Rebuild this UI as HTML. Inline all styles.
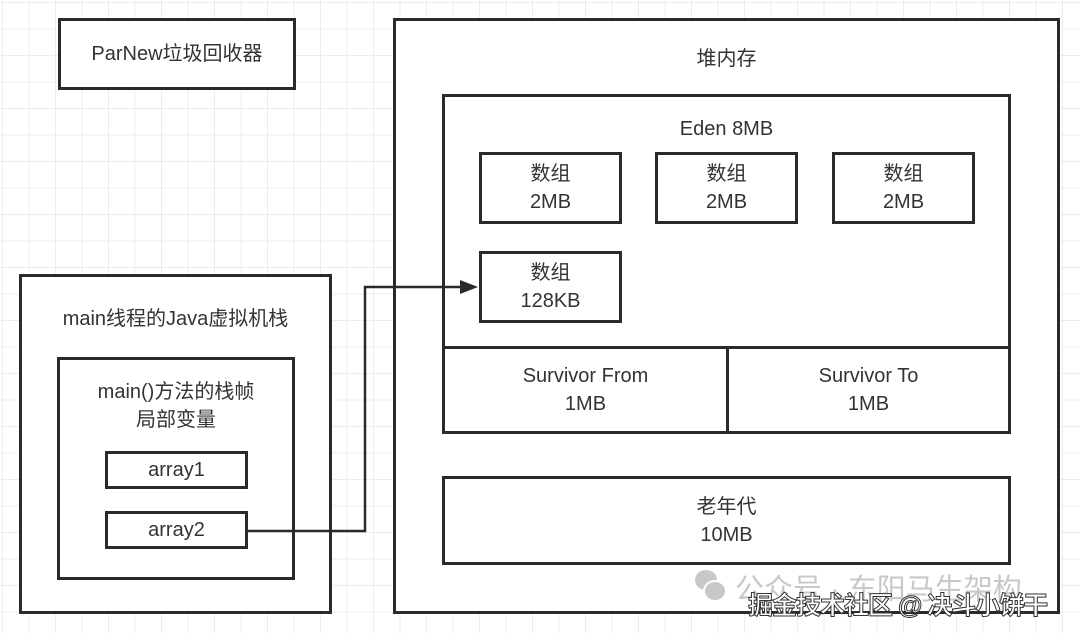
<!DOCTYPE html>
<html><head><meta charset="utf-8"><style>
body{margin:0;width:1080px;height:633px;overflow:hidden;background:#fff;
background-image:linear-gradient(#ececec 1px,transparent 1px),linear-gradient(90deg,#ececec 1px,transparent 1px);
background-size:26.5px 26.5px;background-position:2px 2px;
font-family:"Liberation Sans","Noto Sans CJK SC",sans-serif;color:#333;position:relative}
.b{position:absolute;border:3px solid #2a2a2a;background:#fff;box-sizing:border-box;font-size:20px;text-align:center;line-height:28px}
.c{display:flex;align-items:center;justify-content:center;flex-direction:column}
</style></head><body>
<div class="b c" style="left:58px;top:18px;width:238px;height:72px">ParNew垃圾回收器</div>
<div class="b" style="left:393px;top:18px;width:667px;height:596px;padding-top:24px">堆内存</div>
<div class="b" style="left:442px;top:94px;width:569px;height:340px;padding-top:18px">Eden 8MB</div>
<div class="b c" style="left:442px;top:346px;width:287px;height:88px">Survivor From<br>1MB</div>
<div class="b c" style="left:726px;top:346px;width:285px;height:88px">Survivor To<br>1MB</div>
<div class="b c" style="left:479px;top:152px;width:143px;height:72px">数组<br>2MB</div>
<div class="b c" style="left:655px;top:152px;width:143px;height:72px">数组<br>2MB</div>
<div class="b c" style="left:832px;top:152px;width:143px;height:72px">数组<br>2MB</div>
<div class="b c" style="left:479px;top:251px;width:143px;height:72px">数组<br>128KB</div>
<div class="b c" style="left:442px;top:476px;width:569px;height:89px">老年代<br>10MB</div>
<div class="b" style="left:19px;top:274px;width:313px;height:340px;padding-top:28px">main线程的Java虚拟机栈</div>
<div class="b" style="left:57px;top:357px;width:238px;height:223px;padding-top:18px">main()方法的栈帧<br>局部变量</div>
<div class="b c" style="left:105px;top:451px;width:143px;height:38px">array1</div>
<div class="b c" style="left:105px;top:511px;width:143px;height:38px">array2</div>
<svg style="position:absolute;left:0;top:0" width="1080" height="633">
<polyline points="248,531 365,531 365,287 462,287" fill="none" stroke="#2a2a2a" stroke-width="2.5"/>
<polygon points="478,287 460,280 460,294" fill="#2a2a2a"/>
<ellipse cx="706" cy="580" rx="11" ry="10" fill="#c8c8c8"/>
<ellipse cx="715" cy="591" rx="11" ry="10" fill="#c8c8c8" stroke="#fff" stroke-width="2"/>
</svg>
<div style="position:absolute;left:735px;top:566px;font-size:29px;color:#c8c8c8;white-space:nowrap">公众号 · 东阳马生架构</div>
<div style="position:absolute;left:748px;top:586px;font-size:25px;color:#fff;-webkit-text-stroke:1px #333;font-weight:bold;white-space:nowrap;letter-spacing:-1px">掘金技术社区 @ 决斗小饼干</div>
</body></html>
